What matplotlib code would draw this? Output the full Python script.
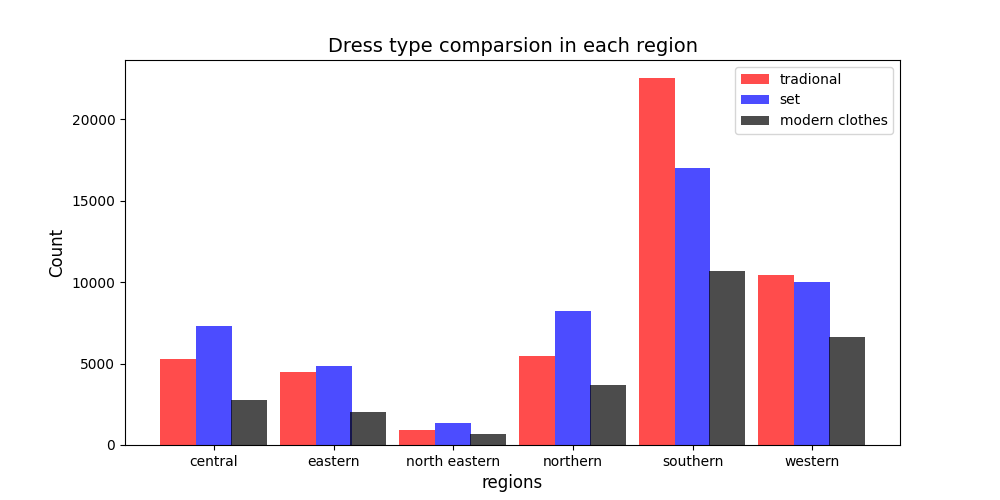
import matplotlib
matplotlib.use("Agg")
import matplotlib.pyplot as plt
import numpy as np

regions = ["central", "eastern", "north eastern", "northern", "southern", "western"]
tradional = [5280, 4480, 920, 5460, 22520, 10430]
set_counts = [7300, 4850, 1350, 8220, 16990, 10000]
modern = [2760, 2030, 680, 3680, 10680, 6630]

fig, ax = plt.subplots(figsize=(10, 5), dpi=100)
x = np.arange(len(regions))
w = 0.3
ax.bar(x - w, tradional, width=w, color="red", alpha=0.7, label="tradional")
ax.bar(x, set_counts, width=w, color="blue", alpha=0.7, label="set")
ax.bar(x + 0.29, modern, width=w, color="black", alpha=0.7, label="modern clothes")

ax.set_xticks(x)
ax.set_xticklabels(regions)
ax.set_xlabel("regions", fontsize=12)
ax.set_ylabel("Count", fontsize=12)
ax.set_title("Dress type comparsion in each region", fontsize=14)
ax.legend(loc="upper right")

fig.savefig("out.png", dpi=100)
